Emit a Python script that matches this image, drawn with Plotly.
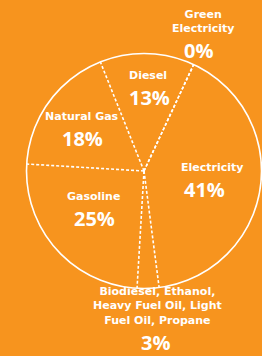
import numpy as np
import plotly.graph_objects as go

# Data (clockwise from the top-right)
categories = ["Green Electricity", "Electricity",
              "Biodiesel, Ethanol, Heavy Fuel Oil, Light Fuel Oil, Propane",
              "Gasoline", "Natural Gas", "Diesel"]
label_lines = ["Green<br>Electricity", "Electricity",
               "Biodiesel, Ethanol,<br>Heavy Fuel Oil, Light<br>Fuel Oil, Propane",
               "Gasoline", "Natural Gas", "Diesel"]
values = [0, 41, 3, 25, 18, 13]

# Style / layout
W, H = 262, 356
BG = "#F7941E"
START = 25  # degrees clockwise from north
cx, cy, R = 144, 171, 117.5
NAME_FONT = "DejaVu Sans"
VALUE_FONT = "Open Sans"
# (name centre x, value centre x, y where name box ends and value box starts)
label_pos = [
    (203, 198, 35.5),
    (212, 204, 174.5),
    (157, 155, 328),
    (93, 94, 203.5),
    (82, 82, 123.5),
    (148, 149, 82.5),
]

vals = np.array(values, dtype=float)
bounds = START + 360 * np.concatenate([[0], np.cumsum(vals)]) / vals.sum()

fig = go.Figure()
for b in bounds[:-1]:
    fig.add_trace(go.Scatterpolar(
        r=[0, 1], theta=[b, b], mode="lines",
        line=dict(color="white", width=1.6, dash="3px,2px"),
        hoverinfo="skip", showlegend=False))

for name, v, (nx, vx, ysplit) in zip(label_lines, values, label_pos):
    fig.add_annotation(x=nx / W, y=1 - ysplit / H, xref="paper", yref="paper",
                       text=f"<b>{name}</b>", showarrow=False, borderpad=0,
                       font=dict(family=NAME_FONT, size=11, color="white"),
                       xanchor="center", yanchor="bottom", align="center")
    fig.add_annotation(x=vx / W, y=1 - ysplit / H, xref="paper", yref="paper",
                       text=f"<b>{v}%</b>", showarrow=False, borderpad=0,
                       font=dict(family=VALUE_FONT, size=20, color="white"),
                       xanchor="center", yanchor="top")

fig.update_layout(
    width=W, height=H, paper_bgcolor=BG, plot_bgcolor=BG,
    margin=dict(l=0, r=0, t=0, b=0), showlegend=False,
    polar=dict(
        bgcolor=BG,
        domain=dict(x=[(cx - R) / W, min(1, (cx + R) / W)],
                    y=[1 - (cy + R) / H, 1 - (cy - R) / H]),
        radialaxis=dict(visible=False, range=[0, 1]),
        angularaxis=dict(rotation=90, direction="clockwise", showline=True,
                         linecolor="white", linewidth=1.6, showgrid=False,
                         showticklabels=False, ticks=""),
    ),
)
fig.write_html("out.html", config={"displayModeBar": False},
               post_script="document.body.style.margin='0';document.body.style.background='%s';" % BG)
